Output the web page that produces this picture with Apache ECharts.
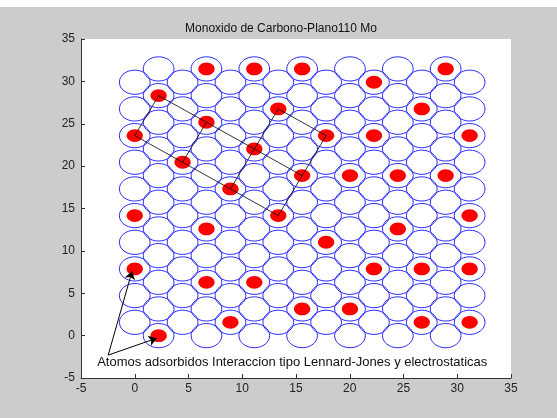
<!DOCTYPE html>
<html>
<head>
<meta charset="utf-8">
<script src="https://cdn.jsdelivr.net/npm/echarts@6/dist/echarts.min.js"></script>
<style>
html,body{margin:0;padding:0;background:#cccccc;}
#c{width:557px;height:418px;}
</style>
</head>
<body>
<div id="c"></div>
<script>
// Lattice columns (x) and row heights (y)
const colX = [0, 2.22, 4.45, 6.67, 8.9, 11.12, 13.35, 15.57, 17.8, 20.02, 22.25, 24.47, 26.7, 28.92, 31.15];
const rowsEvenCol = [1.57, 4.72, 7.87, 11.01, 14.16, 17.31, 20.46, 23.6, 26.75, 29.9];
const rowsOddCol = [0, 3.15, 6.29, 9.44, 12.59, 15.74, 18.88, 22.03, 25.18, 28.32, 31.47];

// Adsorbed atoms (red)
const redX = [2.22, 6.67, 11.12, 15.57, 22.25, 28.92, 0, 6.67, 13.35, 26.7, 4.45, 11.12, 17.8, 22.25, 31.15,
              8.9, 15.57, 20.02, 24.47, 28.92, 0, 13.35, 31.15, 6.67, 24.47, 17.8, 0, 22.25, 26.7, 31.15,
              6.67, 11.12, 15.57, 20.02, 8.9, 26.7, 31.15, 2.22];
const redY = [28.32, 31.47, 31.47, 31.47, 29.9, 31.47, 23.6, 25.18, 26.75, 26.75, 20.46, 22.03, 23.6, 23.6, 23.6,
              17.31, 18.88, 18.88, 18.88, 18.88, 14.16, 14.16, 14.16, 12.59, 12.59, 11.01, 7.87, 7.87, 7.87, 7.87,
              6.29, 6.29, 3.15, 3.15, 1.57, 1.57, 1.57, 0];

// Black connecting lines
const bondFrom = [[2.22, 28.32], [0, 23.6], [13.35, 26.75], [0, 23.6], [4.45, 20.46], [8.9, 17.31], [13.35, 14.16]];
const bondTo   = [[15.57, 18.88], [13.35, 14.16], [17.8, 23.6], [2.22, 28.32], [6.67, 25.18], [13.35, 26.75], [17.8, 23.6]];

// Annotation arrows
const arrowTail = [-2.47, -2.3];
const arrowHeads = [[-0.25, 7.6], [2.05, -0.3]];
const annotationPos = [-3.5, -3.2];
const annotationText = 'Atomos adsorbidos Interaccion tipo Lennard-Jones y electrostaticas';
const titleText = 'Monoxido de Carbono-Plano110 Mo';
const ticks = [-5, 0, 5, 10, 15, 20, 25, 30, 35];

const circleData = [];
colX.forEach((x, i) => {
  (i % 2 === 0 ? rowsEvenCol : rowsOddCol).forEach(y => circleData.push([x, y]));
});
const redData = redX.map((x, i) => [x, redY[i]]);
const bondData = bondFrom.map((p, i) => ({coords: [p, bondTo[i]]}));
const arrowData = arrowHeads.map(h => ({coords: [arrowTail, h]}));

const FONT = 'Liberation Sans, Arial, sans-serif';
const chart = echarts.init(document.getElementById('c'), null, {renderer: 'canvas'});

function ellipseRenderer(R, style) {
  return function (params, api) {
    const c = api.coord([api.value(0), api.value(1)]);
    const s = api.size([R, R]);
    return {type: 'ellipse', shape: {cx: c[0], cy: c[1], rx: s[0], ry: s[1]}, style: style};
  };
}

const axisCommon = {
  type: 'value', min: -5, max: 35, interval: 5,
  axisLine: {show: true, onZero: false, lineStyle: {color: '#333', width: 1}},
  axisTick: {show: true, inside: true, length: 4, lineStyle: {color: '#333'}},
  splitLine: {show: false},
  axisLabel: {color: '#222', fontSize: 12, fontFamily: FONT, margin: 5, showMinLabel: true, showMaxLabel: true}
};

chart.setOption({
  backgroundColor: '#cccccc',
  animation: false,
  title: {
    text: titleText, left: 276, top: 18, textAlign: 'center',
    textStyle: {fontSize: 12, fontWeight: 'normal', color: '#111', fontFamily: FONT}
  },
  graphic: [{type: 'rect', left: 0, top: 0, shape: {width: 557, height: 7}, style: {fill: '#ffffff'}}],
  grid: {left: 81, top: 39, width: 430, height: 339, show: true, backgroundColor: '#ffffff', borderWidth: 0},
  xAxis: Object.assign({}, axisCommon),
  yAxis: Object.assign({}, axisCommon, {axisLabel: Object.assign({}, axisCommon.axisLabel, {margin: 6})}),
  series: [
    {type: 'custom', coordinateSystem: 'cartesian2d', data: circleData, z: 2, silent: true,
     renderItem: ellipseRenderer(1.43, {fill: null, stroke: '#2a2aff', lineWidth: 1})},
    {type: 'custom', coordinateSystem: 'cartesian2d', data: redData, z: 3, silent: true,
     renderItem: ellipseRenderer(0.76, {fill: '#ff0000', stroke: null})},
    {type: 'lines', coordinateSystem: 'cartesian2d', data: bondData, z: 4, silent: true,
     symbol: ['none', 'none'], lineStyle: {color: '#111', width: 1, opacity: 0.85}},
    {type: 'lines', coordinateSystem: 'cartesian2d', data: arrowData, z: 5, silent: true,
     symbol: ['none', 'arrow'], symbolSize: [0, 8], lineStyle: {color: '#000', width: 1, opacity: 1}},
    {type: 'custom', coordinateSystem: 'cartesian2d', data: [annotationPos], z: 6, silent: true,
     renderItem: function (params, api) {
       const c = api.coord([api.value(0), api.value(1)]);
       return {type: 'text', x: c[0], y: c[1],
               style: {text: annotationText, fill: '#111', font: '13px ' + FONT, textAlign: 'left', textVerticalAlign: 'middle'}};
     }}
  ]
});
</script>
</body>
</html>
